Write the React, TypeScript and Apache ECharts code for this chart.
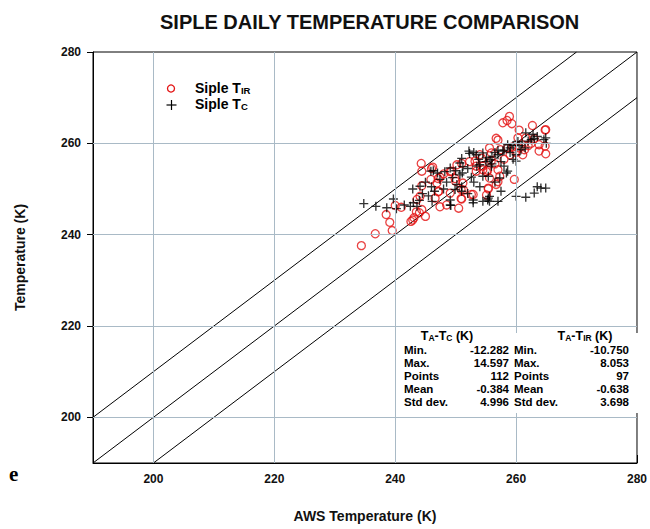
import React, { useEffect, useRef } from "react";
import * as echarts from "echarts";

const axisMin = 190;
const axisMax = 280;
const tickValues = [200, 220, 240, 260, 280];
const gridValues = [200, 220, 240, 260];

const oneToOne = [[190, 190], [280, 280]];
const plusTen = [[190, 200], [270, 280]];
const minusTen = [[200, 190], [280, 270]];

const sipleTIR: number[][] = [
  [234.4, 237.6], [236.7, 240.2], [239.5, 240.9], [239.1, 242.7], [238.5, 244.4],
  [240.0, 246.4], [242.6, 242.9], [243.1, 243.7], [242.9, 243.2], [243.6, 247.7],
  [244.1, 248.4], [244.4, 250.7], [244.4, 253.9], [244.3, 255.6], [246.2, 254.8],
  [245.9, 252.1], [245.0, 244.0], [244.4, 245.5], [244.0, 244.8], [243.5, 245.0],
  [246.9, 251.3], [247.2, 249.5], [246.6, 248.0], [247.4, 246.1], [247.4, 252.6],
  [248.0, 253.3], [249.3, 253.9], [250.0, 251.7], [251.2, 251.3], [250.9, 249.9],
  [250.9, 247.9], [252.6, 248.8], [253.4, 255.0], [254.5, 254.2], [255.4, 250.2],
  [255.6, 259.0], [253.2, 256.1], [253.4, 253.9], [258.9, 265.9], [258.5, 265.0],
  [257.8, 264.5], [259.3, 264.3], [260.5, 262.9], [262.7, 263.9], [264.8, 262.9],
  [261.6, 261.2], [260.3, 261.2], [263.0, 261.0], [263.8, 259.7], [263.8, 258.3],
  [264.9, 257.7], [257.0, 260.7], [257.4, 258.6], [258.6, 259.0], [259.4, 259.2],
  [260.5, 259.0], [261.4, 258.6], [261.1, 257.5], [255.9, 257.9], [254.0, 257.5],
  [254.5, 255.0], [255.3, 254.1], [255.9, 256.2], [257.0, 254.2], [255.6, 252.4],
  [257.3, 252.8], [256.7, 251.0], [255.4, 250.0], [259.7, 252.1], [256.7, 261.1],
  [254.3, 256.7], [252.3, 256.0], [251.0, 255.6], [250.2, 255.3], [249.1, 253.8],
  [249.9, 252.3], [251.3, 249.8], [249.1, 249.1], [247.1, 252.3], [246.0, 254.5],
  [247.1, 249.4], [251.0, 247.8], [252.9, 248.8], [255.1, 248.7], [257.0, 251.6],
  [255.1, 253.8], [264.9, 263.0], [264.8, 259.4], [262.0, 259.5], [258.0, 256.5],
  [259.0, 257.5], [260.0, 258.0], [262.5, 260.0], [256.5, 255.5], [250.5, 245.8],
  [248.5, 246.5], [241.0, 246.0],
];

const sipleTC: number[][] = [
  [234.8, 246.8], [236.8, 246.2], [238.6, 245.9], [239.7, 247.8], [240.2, 245.7],
  [242.9, 250.0], [242.5, 246.2], [243.6, 246.2], [244.1, 250.6], [245.9, 253.9],
  [246.3, 254.0], [247.4, 252.1], [246.1, 247.3], [249.1, 254.6], [249.9, 249.9],
  [249.2, 246.4], [250.7, 255.7], [251.1, 253.5], [250.2, 251.0], [252.2, 258.3],
  [252.6, 252.6], [252.9, 247.0], [253.4, 257.5], [254.5, 257.9], [255.4, 252.8],
  [255.4, 248.0], [254.5, 247.3], [255.7, 256.4], [257.8, 258.3], [258.6, 259.7],
  [259.0, 259.0], [260.3, 260.4], [261.6, 262.3], [262.5, 260.8], [264.6, 260.8],
  [260.8, 258.6], [260.0, 257.5], [260.0, 256.1], [255.1, 256.8], [254.0, 255.3],
  [255.9, 255.0], [258.6, 253.9], [257.3, 252.4], [254.5, 252.8], [255.6, 248.4],
  [255.6, 247.3], [257.0, 247.3], [260.0, 248.4], [261.6, 248.2], [263.0, 249.1],
  [263.5, 250.5], [264.1, 250.2], [264.9, 250.2], [258.4, 253.5], [264.9, 261.2],
  [252.3, 257.8], [253.0, 258.0], [251.0, 256.7], [251.2, 254.9], [250.7, 253.1],
  [248.2, 253.8], [247.0, 253.5], [249.1, 247.6], [249.1, 246.5], [251.0, 250.5],
  [251.0, 249.5], [252.9, 247.6], [255.3, 247.6], [256.0, 257.0], [256.5, 258.0],
  [257.0, 257.5], [258.0, 258.5], [259.5, 259.5], [261.0, 260.0], [262.0, 260.5],
  [263.0, 261.0], [259.0, 258.0], [257.5, 256.0], [256.0, 255.5], [253.5, 255.0],
  [252.0, 254.5], [244.5, 249.0], [244.0, 247.5], [245.5, 248.5], [246.5, 249.5],
  [248.0, 250.0], [253.0, 251.5], [254.0, 250.5], [256.5, 251.5], [258.0, 255.0],
  [259.5, 256.5], [261.5, 259.0], [263.5, 261.5], [265.0, 260.0], [262.8, 262.0],
  [257.0, 258.5], [255.0, 256.0], [253.8, 256.5], [249.5, 252.5], [250.0, 254.0],
  [243.0, 247.0], [241.5, 246.5], [245.0, 251.5], [248.5, 251.5], [252.0, 249.0],
  [257.5, 249.5], [246.0, 250.5], [260.5, 259.5],
];

const statLabels = ["Min.", "Max.", "Points", "Mean", "Std dev."];
const statsTC = ["-12.282", "14.597", "112", "-0.384", "4.996"];
const statsTIR = ["-10.750", "8.053", "97", "-0.638", "3.698"];

const RED = "#e31212";
const GRIDC = "#a9bac6";
const FONT = "'Liberation Sans', Arial, Helvetica, sans-serif";
const PLUS = "path://M3.4,0H4.6V3.4H8V4.6H4.6V8H3.4V4.6H0V3.4H3.4Z";

export default function App() {
  const ref = useRef<HTMLDivElement>(null);
  useEffect(() => {
    if (!ref.current) return;
    const chart = echarts.init(ref.current, null, { renderer: "svg" });
    const legendRich = {
      n: { fontFamily: FONT, fontWeight: "bold", fontSize: 14, color: "#000" },
      s: { fontFamily: FONT, fontWeight: "bold", fontSize: 9.5, color: "#000", padding: [4, 0, 0, 0] },
    };
    const headRich = {
      n: { fontFamily: FONT, fontWeight: "bold", fontSize: 12.5, color: "#000" },
      s: { fontFamily: FONT, fontWeight: "bold", fontSize: 8.5, color: "#000", padding: [4, 0, 0, 0] },
    };
    const statFont = `bold 11.5px ${FONT}`;
    const rowTop = 344;
    const rowStep = 13;
    const statCell = (txt: string, x: number, i: number, align: string) => ({
      type: "text",
      x,
      y: rowTop + i * rowStep,
      z: 11,
      style: { text: txt, font: statFont, fill: "#000", align },
    });
    const statTexts: any[] = [];
    statLabels.forEach((l, i) => {
      statTexts.push(statCell(l, 404, i, "left"));
      statTexts.push(statCell(statsTC[i], 509, i, "right"));
      statTexts.push(statCell(l, 514, i, "left"));
      statTexts.push(statCell(statsTIR[i], 629, i, "right"));
    });
    const option: any = {
      animation: false,
      backgroundColor: "#fff",
      title: {
        text: "SIPLE DAILY TEMPERATURE COMPARISON",
        left: 155,
        top: 7,
        textStyle: { fontFamily: FONT, fontWeight: "bold", fontSize: 20, color: "#111" },
      },
      grid: {
        left: 93,
        right: 9,
        top: 52,
        bottom: 66,
        show: true,
        borderColor: "#000",
        borderWidth: 1,
      },
      xAxis: {
        type: "value",
        min: axisMin,
        max: axisMax,
        name: "AWS Temperature (K)",
        nameLocation: "middle",
        nameGap: 46,
        nameTextStyle: { fontFamily: FONT, fontWeight: "bold", fontSize: 14, color: "#111" },
        axisLine: { show: true, lineStyle: { color: "#000", width: 1 } },
        axisTick: { show: true, inside: true, length: 8, customValues: tickValues, lineStyle: { color: "#000" } },
        axisLabel: {
          customValues: tickValues,
          margin: 10,
          fontFamily: FONT,
          fontWeight: "bold",
          fontSize: 12,
          color: "#111",
        },
        splitLine: { show: false },
      },
      yAxis: {
        type: "value",
        min: axisMin,
        max: axisMax,
        name: "Temperature (K)",
        nameLocation: "middle",
        nameGap: 66,
        nameTextStyle: { fontFamily: FONT, fontWeight: "bold", fontSize: 14, color: "#111" },
        axisLine: { show: true, lineStyle: { color: "#000", width: 1 } },
        axisTick: { show: true, inside: false, length: 6, customValues: tickValues, lineStyle: { color: "#000" } },
        axisLabel: {
          customValues: tickValues,
          margin: 12,
          fontFamily: FONT,
          fontWeight: "bold",
          fontSize: 12,
          color: "#111",
        },
        splitLine: { show: false },
      },
      series: [
        {
          type: "line",
          name: "grid",
          data: [[axisMin, axisMin]],
          showSymbol: false,
          symbol: "none",
          silent: true,
          z: 1,
          lineStyle: { width: 0 },
          markLine: {
            silent: true,
            symbol: "none",
            label: { show: false },
            lineStyle: { color: GRIDC, type: "solid", width: 1 },
            data: [
              ...gridValues.map((v) => ({ xAxis: v })),
              ...gridValues.map((v) => ({ yAxis: v })),
            ],
          },
        },
        ...[oneToOne, plusTen, minusTen].map((d) => ({
          type: "line",
          data: d,
          symbol: "none",
          silent: true,
          z: 2,
          lineStyle: { color: "#000", width: 1 },
        })),
        {
          type: "scatter",
          name: "Siple TIR",
          data: sipleTIR,
          symbol: "circle",
          symbolSize: 8,
          z: 3,
          itemStyle: { color: "rgba(0,0,0,0)", borderColor: RED, borderWidth: 1.3 },
        },
        {
          type: "scatter",
          name: "Siple TC",
          data: sipleTC,
          symbol: PLUS,
          symbolSize: 9,
          z: 4,
          itemStyle: { color: "#000" },
        },
      ],
      graphic: [
        { type: "circle", shape: { cx: 171, cy: 88.5, r: 3.5 }, style: { fill: "none", stroke: RED, lineWidth: 1.3 }, z: 10 },
        { type: "line", shape: { x1: 166.5, y1: 105, x2: 176.5, y2: 105 }, style: { stroke: "#000", lineWidth: 1.2 }, z: 10 },
        { type: "line", shape: { x1: 171.5, y1: 100, x2: 171.5, y2: 110 }, style: { stroke: "#000", lineWidth: 1.2 }, z: 10 },
        {
          type: "text",
          x: 195,
          y: 81,
          z: 10,
          style: {
            text: "{n|Siple T}{s|IR}",
            rich: {
              n: { ...legendRich.n, color: RED },
              s: { ...legendRich.s, color: RED },
            },
          },
        },
        {
          type: "text",
          x: 195,
          y: 97,
          z: 10,
          style: { text: "{n|Siple T}{s|C}", rich: legendRich },
        },
        { type: "rect", shape: { x: 398, y: 333, width: 242, height: 80 }, style: { fill: "#fff" }, z: 10 },
        {
          type: "text",
          x: 447,
          y: 329,
          z: 11,
          style: { text: "{n|T}{s|A}{n|-T}{s|C}{n| (K)}", align: "center", rich: headRich },
        },
        {
          type: "text",
          x: 585,
          y: 329,
          z: 11,
          style: { text: "{n|T}{s|A}{n|-T}{s|IR}{n| (K)}", align: "center", rich: headRich },
        },
        ...statTexts,
        {
          type: "text",
          x: 9,
          y: 463,
          z: 11,
          style: { text: "e", font: `bold 21px 'Liberation Serif', 'DejaVu Serif', serif`, fill: "#000" },
        },
      ],
    };
    chart.setOption(option);
    return () => chart.dispose();
  }, []);
  return <div ref={ref} style={{ width: 650, height: 529, position: "absolute", left: 0, top: 0 }} />;
}
